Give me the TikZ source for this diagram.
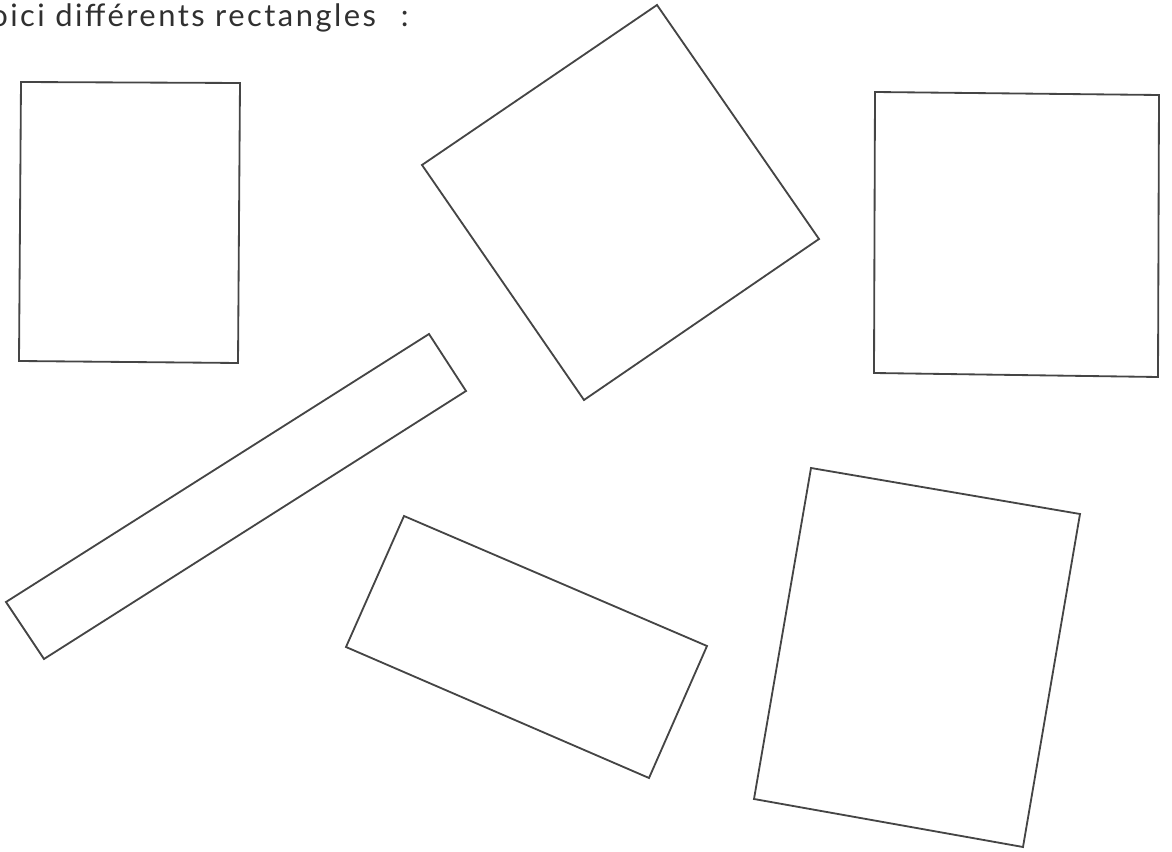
\documentclass[tikz,border=0pt]{standalone}
\usepackage{fontspec}
\setmainfont{Lato}
\definecolor{penc}{HTML}{454545}
\definecolor{inkc}{HTML}{303030}

\begin{document}
\begin{tikzpicture}[x=0.025cm,y=-0.025cm,
  shape line/.style={draw=penc,line width=1.3pt,line join=miter},
  title text/.style={text=inkc,font=\fontsize{22}{26}\selectfont\addfontfeatures{LetterSpace=8},inner sep=0pt}]
  \useasboundingbox (0,0) rectangle (1172,852);
  \node[title text,anchor=base west] (title) at (55,27) {\llap{Voici }différents rectangles\hspace{0.8em}:};
  % upright ones
  \draw[shape line] (21,82) -- (240,83) -- (238,363) -- (19,361) -- cycle;
  \draw[shape line] (875,92) -- (1159,95) -- (1158,377) -- (874,373) -- cycle;
  % turned ones
  \draw[shape line] (422,165) -- (657,5) -- (819,239) -- (584,400) -- cycle;
  \draw[shape line] (429,334) -- (466,391) -- (44,659) -- (6,602) -- cycle;
  \draw[shape line] (404,516) -- (707,646) -- (649,778) -- (346,647) -- cycle;
  \draw[shape line] (811,468) -- (1080,514) -- (1023,847) -- (754,799) -- cycle;
\end{tikzpicture}
\end{document}
